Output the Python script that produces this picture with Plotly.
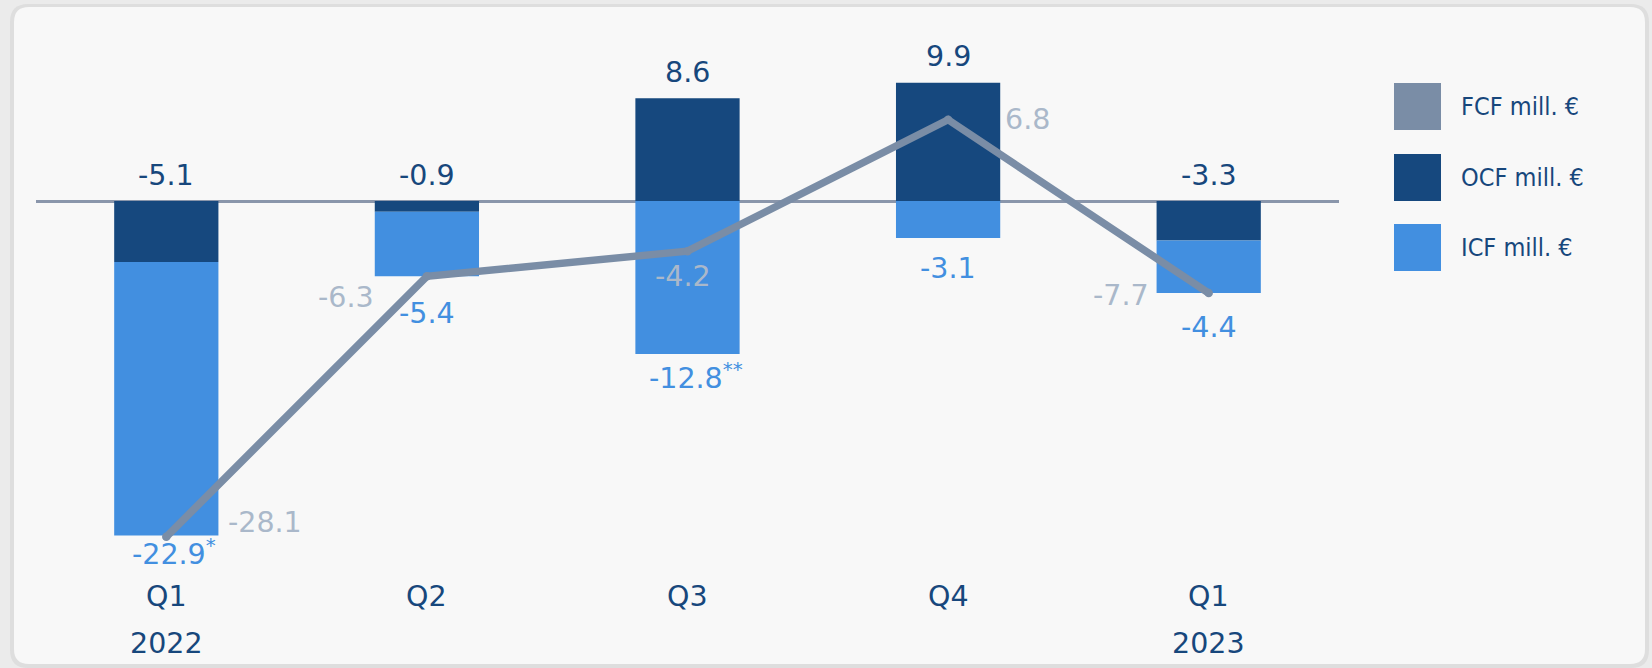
import plotly.graph_objects as go

# ---- data ----
categories = ["Q1 2022", "Q2 2022", "Q3 2022", "Q4 2022", "Q1 2023"]
quarter_labels = ["Q1", "Q2", "Q3", "Q4", "Q1"]
year_labels = ["2022", "", "", "", "2023"]
ocf = [-5.1, -0.9, 8.6, 9.9, -3.3]
icf = [-22.9, -5.4, -12.8, -3.1, -4.4]
fcf = [-28.1, -6.3, -4.2, 6.8, -7.7]
icf_notes = ["*", "", "**", "", ""]
series_names = ["FCF mill. €", "OCF mill. €", "ICF mill. €"]

# ---- styles ----
C_OCF = "#16487e"
C_ICF = "#428fe0"
C_FCF = "#7a8da6"
C_FCF_TXT = "#aab8ca"
C_TXT = "#17477c"
FONT = "DejaVu Sans"
FONT_LEG = "DejaVu Sans Condensed, DejaVu Sans"
FS = 28.5
FS_LEG = 25

W, H = 1652, 668
L, R, T, B = 36, 313, 20, 88
PW, PH = W - L - R, H - T - B
PX_PER_UNIT = 11.95
ZERO_Y = 201
ymax = (ZERO_Y - T) / PX_PER_UNIT
ymin = -(T + PH - ZERO_Y) / PX_PER_UNIT


def px(x):
    return (x - L) / PW


def py(y):
    return (T + PH - y) / PH


fig = go.Figure()
fig.add_trace(go.Bar(x=categories, y=ocf, marker_color=C_OCF, marker_line_width=0,
                     width=0.4, name=series_names[1], showlegend=False))
fig.add_trace(go.Bar(x=categories, y=icf, marker_color=C_ICF, marker_line_width=0,
                     width=0.4, name=series_names[2], showlegend=False))
fig.add_trace(go.Scatter(x=categories, y=fcf, mode="lines+markers",
                         line=dict(color=C_FCF, width=7.5),
                         marker=dict(color=C_FCF, size=8.5),
                         name=series_names[0], showlegend=False))

ann = []
# OCF labels above
for c, v in zip(categories, ocf):
    ann.append(dict(x=c, y=max(v, 0), xref="x", yref="y", text=f"{v:.1f}",
                    showarrow=False, yanchor="middle", yshift=26,
                    font=dict(family=FONT, size=FS, color=C_TXT)))
# ICF labels below
icf_shift = [-16, -37, -22, -30, -34]
for c, o, v, n, s in zip(categories, ocf, icf, icf_notes, icf_shift):
    bottom = min(o, 0) + v
    txt = f"{v:.1f}" + (f"<sup>{n}</sup>" if n else "")
    ann.append(dict(x=c, y=bottom, xref="x", yref="y", text=txt,
                    showarrow=False, yanchor="middle", yshift=s,
                    xshift=(8 if n else 0),
                    font=dict(family=FONT, size=FS, color=C_ICF)))
# FCF labels
fcf_pos = [("left", 60, 14), ("right", -51, -21), ("center", -5, -25),
           ("left", 55, 0), ("right", -58, -2)]
for c, v, (xa, xs, ys) in zip(categories, fcf, fcf_pos):
    ann.append(dict(x=c, y=v, xref="x", yref="y", text=f"{v:.1f}",
                    showarrow=False, xanchor=xa, yanchor="middle",
                    xshift=xs, yshift=ys,
                    font=dict(family=FONT, size=FS, color=C_FCF_TXT)))
# x labels
for c, q, yr in zip(categories, quarter_labels, year_labels):
    ann.append(dict(x=c, y=py(596), xref="x", yref="paper", text=q,
                    showarrow=False, yanchor="middle",
                    font=dict(family=FONT, size=FS, color=C_TXT)))
    if yr:
        ann.append(dict(x=c, y=py(643), xref="x", yref="paper", text=yr,
                        showarrow=False, yanchor="middle",
                        font=dict(family=FONT, size=FS, color=C_TXT)))

shapes = []


def rounded(x0, y0, x1, y1, r):
    a0, a1 = px(x0), px(x1)
    b0, b1 = py(y0), py(y1)
    rx = r / PW
    ry = r / PH
    return (f"M {a0+rx},{b0} L {a1-rx},{b0} Q {a1},{b0} {a1},{b0-ry} "
            f"L {a1},{b1+ry} Q {a1},{b1} {a1-rx},{b1} L {a0+rx},{b1} "
            f"Q {a0},{b1} {a0},{b1+ry} L {a0},{b0-ry} Q {a0},{b0} {a0+rx},{b0} Z")


shapes.append(dict(type="path", xref="paper", yref="paper",
                   path=rounded(10, 4, 1649, 668, 18), fillcolor="#dedede",
                   line_width=0, layer="below"))
shapes.append(dict(type="path", xref="paper", yref="paper",
                   path=rounded(14, 7, 1645, 664, 15), fillcolor="#f8f8f8",
                   line_width=0, layer="below"))

# legend
leg_colors = [C_FCF, C_OCF, C_ICF]
leg_top = [83, 154, 224]
for name, col, t in zip(series_names, leg_colors, leg_top):
    shapes.append(dict(type="rect", xref="paper", yref="paper",
                       x0=px(1394), x1=px(1441), y0=py(t + 47), y1=py(t),
                       fillcolor=col, line_width=0))
    ann.append(dict(x=px(1459), y=py(t + 23.5), xref="paper", yref="paper",
                    text=name, showarrow=False, xanchor="left", yanchor="middle",
                    font=dict(family=FONT_LEG, size=FS_LEG, color=C_TXT)))

fig.update_layout(
    width=W, height=H, barmode="relative",
    margin=dict(l=L, r=R, t=T, b=B),
    paper_bgcolor="#ebebeb", plot_bgcolor="rgba(0,0,0,0)",
    xaxis=dict(range=[-0.5, 4.5], showticklabels=False, showgrid=False,
               zeroline=False, showline=False, ticks=""),
    yaxis=dict(range=[ymin, ymax], showticklabels=False, showgrid=False,
               zeroline=True, zerolinecolor="#8a96ab", zerolinewidth=2.5,
               showline=False, ticks=""),
    annotations=ann, shapes=shapes, showlegend=False,
)

fig.write_html("out.html")
